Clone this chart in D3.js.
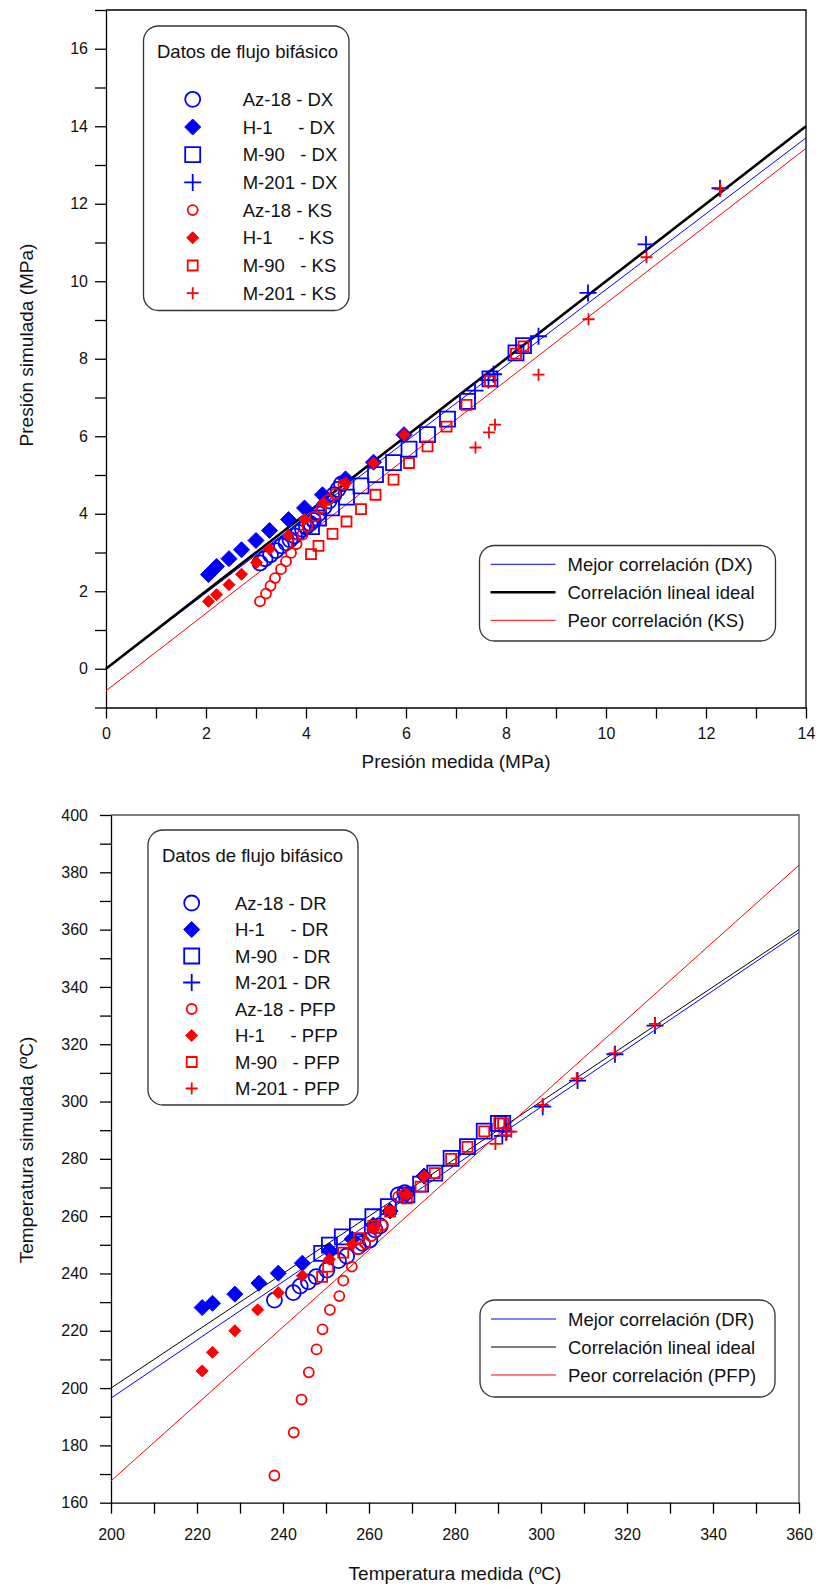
<!DOCTYPE html>
<html>
<head>
<meta charset="utf-8">
<script src="https://cdn.jsdelivr.net/npm/d3@7/dist/d3.min.js"></script>
<style>
body { margin: 0; background: #fff; }
svg text { font-family: "Liberation Sans", Arial, sans-serif; fill: #111; }
</style>
</head>
<body>
<svg id="chart" width="816" height="1589"></svg>
<script>

// ---- Presión (top chart) ----
var presAz18DX = [[3.08,2.73],[3.18,2.84],[3.29,2.94],[3.40,3.05],[3.51,3.17],[3.60,3.25],[3.68,3.33],[3.77,3.43],[3.85,3.52],[3.93,3.60],[4.01,3.67],[4.08,3.75],[4.15,3.83],[4.25,4.00],[4.36,4.17],[4.46,4.33],[4.56,4.49],[4.64,4.63],[4.71,4.77]];
var presH1DX = [[2.05,2.43],[2.21,2.64],[2.46,2.84],[2.71,3.07],[3.00,3.31],[3.27,3.57],[3.65,3.85],[3.97,4.15],[4.33,4.49],[4.79,4.90],[5.35,5.33],[5.96,6.04]];
var presM90DX = [[4.11,3.67],[4.25,3.89],[4.51,4.15],[4.81,4.43],[5.10,4.72],[5.39,5.01],[5.75,5.32],[6.06,5.67],[6.43,6.04],[6.83,6.44],[7.23,6.90],[7.68,7.48],[8.20,8.15],[8.35,8.34]];
var presM201DX = [[7.38,7.18],[7.65,7.45],[7.75,7.60],[8.65,8.58],[9.64,9.70],[10.80,10.95],[12.28,12.40]];
var presAz18KS = [[3.08,1.74],[3.20,1.94],[3.29,2.14],[3.38,2.34],[3.50,2.57],[3.60,2.77],[3.70,2.99],[3.81,3.22],[3.93,3.46],[4.03,3.67],[4.18,3.93],[4.31,4.15],[4.45,4.36],[4.58,4.51],[4.75,4.75]];
var presH1KS = [[2.05,1.74],[2.21,1.91],[2.46,2.17],[2.71,2.44],[3.01,2.74],[3.27,3.09],[3.65,3.44],[3.97,3.85],[4.35,4.28],[4.79,4.79],[5.35,5.31],[5.96,6.04]];
var presM90KS = [[4.10,2.96],[4.25,3.17],[4.53,3.48],[4.81,3.80],[5.10,4.12],[5.39,4.49],[5.75,4.88],[6.06,5.31],[6.43,5.74],[6.81,6.25],[7.21,6.81],[7.68,7.43],[8.20,8.13],[8.35,8.32]];
var presM201KS = [[7.39,5.71],[7.66,6.10],[7.78,6.30],[8.65,7.59],[9.65,9.02],[10.81,10.62],[12.29,12.37]];
var presLineDX = [[0,0],[14,13.7]];
var presLineIdeal = [[0,0],[14,14]];
var presLineKS = [[0,-0.57],[14,13.43]];
var presLabels = ["Az-18 - DX", "H-1     - DX", "M-90   - DX", "M-201 - DX", "Az-18 - KS", "H-1     - KS", "M-90   - KS", "M-201 - KS"];
var presLineLabels = ["Mejor correlación (DX)", "Correlación lineal ideal", "Peor correlación (KS)"];

// ---- Temperatura (bottom chart) ----
var tempAz18DR = [[238.0,230.7],[242.4,233.3],[244.0,235.6],[245.9,237.1],[247.7,238.9],[250.2,241.2],[252.9,244.5],[254.8,246.1],[257.5,249.4],[258.5,250.5],[260.2,251.7],[261.4,255.2],[262.6,256.6],[266.8,267.4],[268.3,268.2]];
var tempH1DR = [[221.2,228.1],[223.6,229.6],[228.8,232.8],[234.4,236.6],[238.9,240.1],[244.5,243.6],[250.8,248.0],[256.1,252.0],[261.0,256.9],[264.9,261.8],[268.8,267.6],[272.8,274.0]];
var tempM90DR = [[249.0,247.0],[250.8,249.9],[253.8,252.8],[257.3,256.3],[260.9,259.8],[264.5,263.3],[268.8,267.4],[272.0,271.2],[275.3,275.0],[279.1,280.2],[282.9,284.3],[286.8,289.7],[290.1,292.4],[291.1,292.4]];
var tempM201DR = [[291.0,288.0],[292.0,289.5],[300.4,298.2],[308.5,307.3],[317.2,316.5],[326.5,326.5]];
var tempAz18PFP = [[238.0,169.5],[242.5,184.5],[244.3,196.0],[246.0,205.5],[247.8,213.5],[249.2,220.5],[250.9,227.3],[253.1,232.1],[254.0,237.5],[256.0,242.4],[257.5,248.4],[259.1,250.5],[260.5,253.0],[261.8,255.8],[263.2,256.9],[266.8,266.8],[268.3,267.8]];
var tempH1PFP = [[221.2,206.0],[223.6,212.5],[228.8,220.0],[234.1,227.3],[238.9,233.3],[244.5,239.2],[250.8,245.0],[256.1,250.2],[260.9,255.8],[264.9,261.8],[268.8,267.6],[272.8,274.0]];
var tempM90PFP = [[249.1,238.8],[250.5,242.4],[254.0,247.3],[257.7,252.3],[261.0,256.6],[264.9,261.6],[268.8,266.2],[272.0,270.3],[275.3,275.0],[279.1,280.0],[282.9,284.2],[286.8,289.6],[290.3,292.4],[291.2,292.4]];
var tempM201PFP = [[289.4,285.2],[291.8,288.3],[293.1,289.5],[300.4,298.8],[308.3,308.1],[317.1,316.9],[326.5,327.1]];
var tempLineDR = [[200,196.5],[360,359]];
var tempLineIdeal = [[200,200],[360,360]];
var tempLinePFP = [[200,167.6],[360,382.5]];
var tempLabels = ["Az-18 - DR", "H-1     - DR", "M-90   - DR", "M-201 - DR", "Az-18 - PFP", "H-1     - PFP", "M-90   - PFP", "M-201 - PFP"];
var tempLineLabels = ["Mejor correlación (DR)", "Correlación lineal ideal", "Peor correlación (PFP)"];

var BLUE = "#0000ff", RED = "#ff0000";

// marker styles: big blue for the best method, small red for the worst
var bigStyle = { color: BLUE, circle: 7.5, diamond: 8, square: 7.5, plus: 8.5 };
var smallStyle = { color: RED, circle: 5, diamond: 6, square: 5, plus: 6 };

function shapePath(shape, s) {
	if (shape == "diamond") return "M0," + (-s) + "L" + s + ",0L0," + s + "L" + (-s) + ",0Z";
	if (shape == "square") return "M" + (-s) + "," + (-s) + "H" + s + "V" + s + "H" + (-s) + "Z";
	return "M" + (-s) + ",0H" + s + "M0," + (-s) + "V" + s;
}

function drawMarker(g, shape, style, cx, cy) {
	var s = style[shape];
	if (shape == "circle") {
		g.append("circle").attr("cx", cx).attr("cy", cy).attr("r", s)
			.attr("fill", "none").attr("stroke", style.color).attr("stroke-width", 1.8);
		return;
	}
	g.append("path")
		.attr("transform", "translate(" + cx + "," + cy + ")")
		.attr("d", shapePath(shape, s))
		.attr("fill", shape == "diamond" ? style.color : "none")
		.attr("stroke", style.color)
		.attr("stroke-width", shape == "diamond" ? 1 : 1.8);
}

var svg = d3.select("#chart");
var shapes = ["circle", "diamond", "square", "plus"];

function drawChart(c) {
	var g = svg.append("g");
	var x = d3.scaleLinear().domain(c.xDomain).range([c.left, c.right]);
	var y = d3.scaleLinear().domain(c.yDomain).range([c.bottom, c.top]);

	// frame top / right
	g.append("path")
		.attr("d", "M" + c.left + "," + c.top + "H" + c.right + "V" + c.bottom)
		.attr("fill", "none").attr("stroke", c.frameColor).attr("stroke-width", 1.3);

	var xAxis = d3.axisBottom(x).tickValues(d3.range(c.xDomain[0], c.xDomain[1] + 0.001, c.xMinor))
		.tickSize(11).tickSizeOuter(0).tickPadding(c.xPad)
		.tickFormat(function(d) { return c.xLabels.indexOf(d) >= 0 ? d : ""; });
	var yAxis = d3.axisLeft(y).tickValues(d3.range(c.yDomain[0], c.yDomain[1] + 0.001, c.yMinor))
		.tickSize(11).tickSizeOuter(0).tickPadding(c.yPad)
		.tickFormat(function(d) { return c.yLabels.indexOf(d) >= 0 ? d : ""; });

	var gx = g.append("g").attr("transform", "translate(0," + c.bottom + ")").call(xAxis);
	var gy = g.append("g").attr("transform", "translate(" + c.left + ",0)").call(yAxis);
	[gx, gy].forEach(function(a) {
		a.selectAll("path, line").attr("stroke", "#000").attr("stroke-width", 1.3);
		a.selectAll("text").style("font-size", "16px").attr("fill", "#111");
	});

	// axis titles
	g.append("text").attr("x", (c.left + c.right) / 2).attr("y", c.xTitleY)
		.attr("text-anchor", "middle").style("font-size", "19px").text(c.xTitle);
	g.append("text").attr("transform", "translate(" + c.yTitleX + "," + c.yTitleY + ") rotate(-90)")
		.attr("text-anchor", "middle").style("font-size", "19px").text(c.yTitle);

	// correlation lines
	var line = d3.line().x(function(d) { return x(d[0]); }).y(function(d) { return y(d[1]); });
	c.lines.forEach(function(l) {
		g.append("path").datum(l.data).attr("d", line)
			.attr("fill", "none").attr("stroke", l.color).attr("stroke-width", l.width);
	});

	// data markers
	c.series.forEach(function(s) {
		var sg = g.append("g");
		s.data.forEach(function(d) { drawMarker(sg, s.shape, s.style, x(d[0]), y(d[1])); });
	});

	// legend of data sets
	var L = c.legend;
	g.append("rect").attr("x", L.x).attr("y", L.y).attr("width", L.w).attr("height", L.h)
		.attr("rx", 15).attr("fill", "#fff").attr("stroke", "#333").attr("stroke-width", 1.3);
	g.append("text").attr("x", L.titleX).attr("y", L.titleY).style("font-size", "18.5px").text("Datos de flujo bifásico");
	c.series.forEach(function(s, i) {
		var cy = L.row0 + i * L.step;
		drawMarker(g, s.shape, s.style, L.symX, cy);
		g.append("text").attr("x", L.textX).attr("y", cy + 6.5)
			.style("font-size", "18.5px").style("white-space", "pre").attr("xml:space", "preserve")
			.text(c.labels[i]);
	});

	// legend of lines
	var B = c.lineLegend;
	g.append("rect").attr("x", B.x).attr("y", B.y).attr("width", B.w).attr("height", B.h)
		.attr("rx", 15).attr("fill", "#fff").attr("stroke", "#333").attr("stroke-width", 1.3);
	c.lines.forEach(function(l, i) {
		var cy = B.row0 + i * B.step;
		g.append("line").attr("x1", B.x + 11).attr("x2", B.x + 76).attr("y1", cy).attr("y2", cy)
			.attr("stroke", l.color).attr("stroke-width", l.width);
		g.append("text").attr("x", B.x + 88).attr("y", cy + 6.5).style("font-size", "18.5px").text(c.lineLabels[i]);
	});
}

function makeSeries(sets) {
	return sets.map(function(d, i) {
		return { data: d, shape: shapes[i % 4], style: i < 4 ? bigStyle : smallStyle };
	});
}

drawChart({
	xDomain: [0, 14], yDomain: [-1, 17], xMinor: 1, yMinor: 1,
	xLabels: d3.range(0, 15, 2), yLabels: d3.range(0, 17, 2),
	left: 106, right: 806, top: 10, bottom: 707.5,
	xPad: 9, yPad: 7, frameColor: "#000",
	xTitle: "Presión medida (MPa)", xTitleY: 768,
	yTitle: "Presión simulada (MPa)", yTitleX: 33, yTitleY: 345,
	lines: [
		{ data: presLineDX, color: BLUE, width: 1 },
		{ data: presLineIdeal, color: "#000", width: 2.6 },
		{ data: presLineKS, color: RED, width: 1 }
	],
	series: makeSeries([presAz18DX, presH1DX, presM90DX, presM201DX, presAz18KS, presH1KS, presM90KS, presM201KS]),
	labels: presLabels, lineLabels: presLineLabels,
	legend: { x: 143.5, y: 26, w: 205.5, h: 284.5, titleX: 157, titleY: 57.5, symX: 192.7, textX: 242.7, row0: 99.3, step: 27.7 },
	lineLegend: { x: 479.5, y: 545.5, w: 296, h: 95.5, row0: 564.3, step: 28 }
});

drawChart({
	xDomain: [200, 360], yDomain: [160, 400], xMinor: 10, yMinor: 10,
	xLabels: d3.range(200, 361, 20), yLabels: d3.range(160, 401, 20),
	left: 111, right: 799, top: 815, bottom: 1502.7,
	xPad: 15, yPad: 12, frameColor: "#555",
	xTitle: "Temperatura medida (ºC)", xTitleY: 1580,
	yTitle: "Temperatura simulada (ºC)", yTitleX: 33, yTitleY: 1150,
	lines: [
		{ data: tempLineDR, color: BLUE, width: 1 },
		{ data: tempLineIdeal, color: "#000", width: 1 },
		{ data: tempLinePFP, color: RED, width: 1 }
	],
	series: makeSeries([tempAz18DR, tempH1DR, tempM90DR, tempM201DR, tempAz18PFP, tempH1PFP, tempM90PFP, tempM201PFP]),
	labels: tempLabels, lineLabels: tempLineLabels,
	legend: { x: 148, y: 830, w: 210, h: 275, titleX: 162, titleY: 861.5, symX: 191.7, textX: 235, row0: 903, step: 26.5 },
	lineLegend: { x: 480, y: 1300, w: 295, h: 97, row0: 1319, step: 28 }
});
</script>
</body>
</html>
